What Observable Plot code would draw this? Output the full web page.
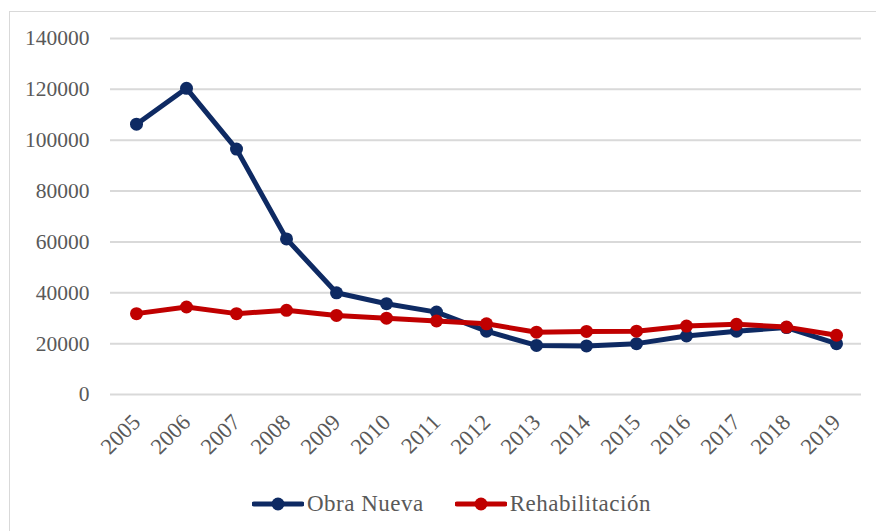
<!DOCTYPE html>
<html>
<head>
<meta charset="utf-8">
<script src="https://cdn.jsdelivr.net/npm/d3@7"></script>
<script src="https://cdn.jsdelivr.net/npm/@observablehq/plot@0.6"></script>
<style>
  html, body { margin: 0; padding: 0; background: #fff; overflow: hidden; }
  #wrap { position: relative; width: 876px; height: 531px; overflow: hidden; }
  #frame { position: absolute; left: 9px; top: 11px; width: 900px; height: 600px;
           border: 1.5px solid #d9d9d9; box-sizing: border-box; }
  #chart { position: absolute; left: 0; top: 0; }
  #legend { position: absolute; left: 252px; top: 491px; height: 26px; display: flex; align-items: center;
            font-family: "Liberation Serif", "Times New Roman", serif; font-size: 23px;
            letter-spacing: 0.5px; color: #595959; }
  .item { display: flex; align-items: center; }
  .item svg { display: block; }
  .item span { margin-left: 3px; line-height: 26px; }
  .item + .item { margin-left: 31px; }
</style>
</head>
<body>
<div id="wrap">
  <div id="frame"></div>
  <div id="chart"></div>
  <div id="legend"></div>
</div>
<script>
// Viviendas por año: obra nueva y rehabilitación
const years = ["2005","2006","2007","2008","2009","2010","2011","2012","2013","2014","2015","2016","2017","2018","2019"];
const obraNueva = [106300, 120400, 96500, 61200, 40000, 35700, 32400, 24900, 19300, 19100, 20000, 23000, 24900, 26300, 20000];
const rehabilitacion = [31800, 34400, 31800, 33100, 31100, 30000, 28900, 27800, 24500, 24800, 24900, 26900, 27600, 26500, 23300];
const yTicks = [0, 20000, 40000, 60000, 80000, 100000, 120000, 140000];

const seriesNames = ["Obra Nueva", "Rehabilitación"];
const seriesColors = ["#0e2a63", "#c00000"];
const seriesValues = [obraNueva, rehabilitacion];

const font = '"Liberation Serif", "Times New Roman", serif';

const rows = seriesNames.map((name, s) =>
  years.map((year, i) => ({ series: name, year, value: seriesValues[s][i] }))
);

const marks = [
  Plot.ruleY(yTicks, { stroke: "#d9d9d9", strokeWidth: 2 }),
  Plot.axisY({ ticks: yTicks, tickSize: 0, tickPadding: 21, tickFormat: d => String(d),
               fontSize: 21.5, fill: "#595959", label: null }),
  Plot.axisX({ tickSize: 0, tickRotate: -45, tickPadding: 24, fontSize: 22.5, fill: "#595959", label: null })
];
rows.forEach((data, s) => {
  marks.push(Plot.line(data, { x: "year", y: "value", stroke: seriesColors[s], strokeWidth: 5,
                               strokeLinejoin: "round", strokeLinecap: "round" }));
  marks.push(Plot.dot(data, { x: "year", y: "value", fill: seriesColors[s], r: 6.5 }));
});

const chart = Plot.plot({
  width: 876,
  height: 475,
  marginTop: 38,
  marginBottom: 81,
  marginLeft: 110,
  marginRight: 15,
  style: { fontFamily: font, background: "transparent", overflow: "visible" },
  x: { type: "point", domain: years, padding: 0.5 },
  y: { domain: [0, 140000] },
  marks
});
document.getElementById("chart").append(chart);

// Legend: line-with-marker swatches
const legend = document.getElementById("legend");
seriesNames.forEach((name, s) => {
  const item = document.createElement("div");
  item.className = "item";
  item.innerHTML =
    `<svg width="52" height="14"><line x1="2" x2="50" y1="7" y2="7" stroke="${seriesColors[s]}" stroke-width="5" stroke-linecap="round"/>` +
    `<circle cx="26" cy="7" r="6.5" fill="${seriesColors[s]}"/></svg><span></span>`;
  item.querySelector("span").textContent = name;
  legend.append(item);
});
</script>
</body>
</html>
